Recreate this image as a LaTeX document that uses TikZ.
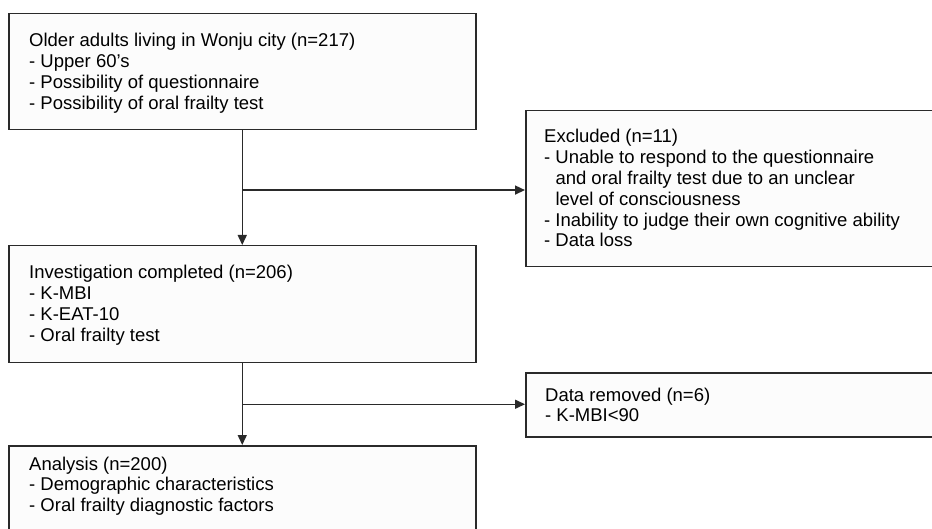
\documentclass[tikz,border=0pt]{standalone}
\usepackage{fontspec}
\setmainfont{Liberation Sans}
\usetikzlibrary{arrows.meta,calc}
\definecolor{edge}{HTML}{2A2A2A}
\definecolor{boxfill}{HTML}{FCFCFC}
\tikzset{
  box/.style={draw=edge, fill=boxfill, line width=1.5pt, rectangle, inner sep=0pt, anchor=north west},
  txt/.style={anchor=base west, inner sep=0pt, text=black},
  flow/.style={draw=edge, line width=1.5pt, -{Triangle[length=10pt,width=9pt]}}
}
\newcommand{\boxtext}[1]{\parbox[t]{400pt}{\fontsize{18.5}{20.8}\selectfont\raggedright #1}}
\newcommand{\indentline}{\phantom{-}\ }
\begin{document}
\begin{tikzpicture}[x=1pt,y=-1pt]
\useasboundingbox (0,0) rectangle (932,529);
\clip (0,0) rectangle (932,529);
\fill[white] (0,0) rectangle (932,529);
% boxes
\node[box, minimum width=467pt, minimum height=116pt] (b1) at (8,13) {};
\node[box, minimum width=467pt, minimum height=117pt] (b2) at (8,245) {};
\node[box, minimum width=420pt, minimum height=156pt] (b3) at (525,110) {};
\node[box, minimum width=420pt, minimum height=64pt] (b4) at (525,372) {};
\node[box, minimum width=467pt, minimum height=100pt] (b5) at (8,445) {};
% texts
\node[txt] (t1) at (29,47) {\boxtext{Older adults living in Wonju city (n=217)\\- Upper 60’s\\- Possibility of questionnaire\\- Possibility of oral frailty test}};
\node[txt] (t2) at (29,279) {\boxtext{Investigation completed (n=206)\\- K-MBI\\- K-EAT-10\\- Oral frailty test}};
\node[txt] (t3) at (544,143) {\boxtext{Excluded (n=11)\\- Unable to respond to the questionnaire\\\indentline and oral frailty test due to an unclear\\\indentline level of consciousness\\- Inability to judge their own cognitive ability\\- Data loss}};
\node[txt] (t4) at (545,401) {\boxtext{Data removed (n=6)\\- K-MBI<90}};
\node[txt] (t5) at (29,470) {\boxtext{Analysis (n=200)\\- Demographic characteristics\\- Oral frailty diagnostic factors}};
% connectors
\coordinate (j1) at ($(b1.south)!0.52!(b2.north)$);
\coordinate (j2) at ($(b2.south)!0.5!(b5.north)$);
\draw[flow] (b1.south) -- (b2.north);
\draw[flow] (j1) -- (j1 -| b3.west);
\draw[flow] (b2.south) -- (b5.north);
\draw[flow] (j2) -- (j2 -| b4.west);
\end{tikzpicture}
\end{document}
